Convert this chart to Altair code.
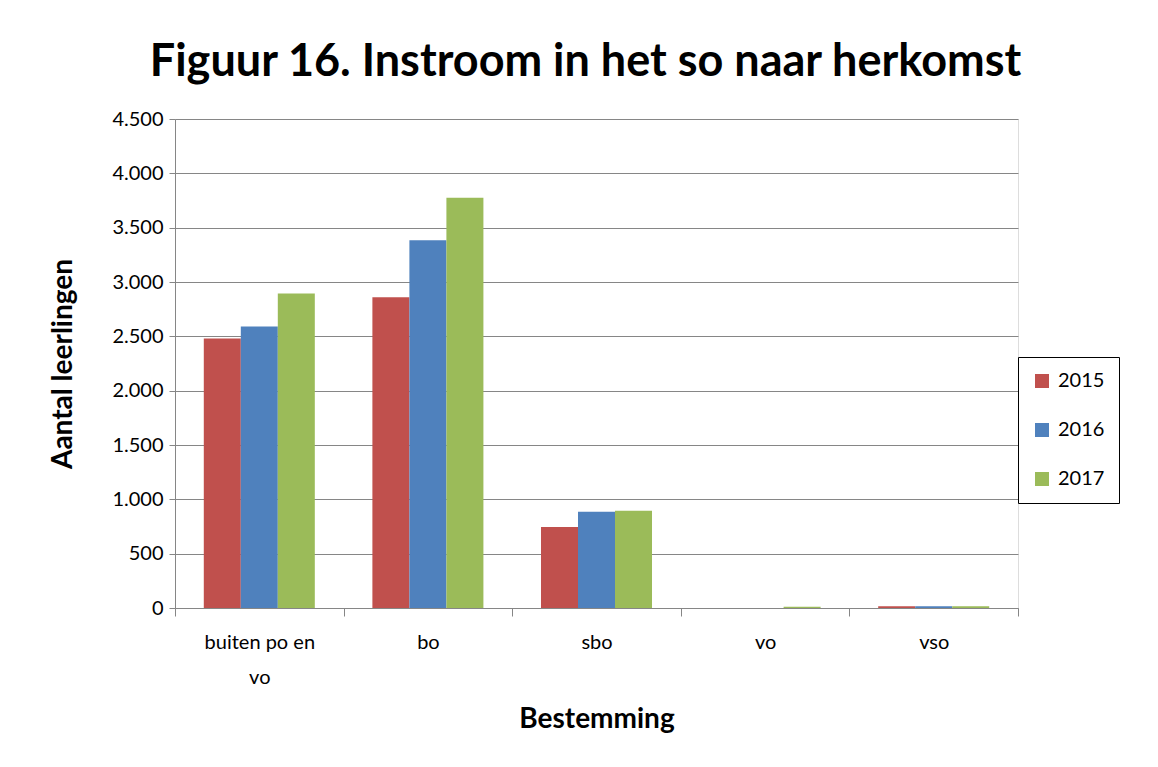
import altair as alt
import pandas as pd

categories = ["buiten po en vo", "bo", "sbo", "vo", "vso"]
years = ["2015", "2016", "2017"]
v2015 = [2480, 2860, 745, 0, 15]
v2016 = [2590, 3385, 885, 0, 15]
v2017 = [2895, 3775, 895, 12, 15]
colors = ["#C0504D", "#4F81BD", "#9BBB59"]
y_ticks = [0, 500, 1000, 1500, 2000, 2500, 3000, 3500, 4000, 4500]

rows = []
for ci, cat in enumerate(categories):
    for yr, vals in zip(years, [v2015, v2016, v2017]):
        rows.append({"Bestemming": cat, "Jaar": yr, "Aantal": vals[ci]})
df = pd.DataFrame(rows)

FONT = "Lato"

bars = alt.Chart(df).mark_bar().encode(
    x=alt.X("Bestemming:N", sort=categories,
            scale=alt.Scale(paddingInner=0, paddingOuter=0),
            axis=alt.Axis(title="Bestemming", tickBand="extent", grid=False,
                          labelAngle=0, labelFontSize=20, labelFont=FONT,
                          labelColor="#000000", labelPadding=26,
                          labelLineHeight=35, labelBaseline="middle",
                          labelExpr="datum.label == 'buiten po en vo' ? ['buiten po en', 'vo'] : datum.label",
                          tickSize=8, tickColor="#868686", domainColor="#868686",
                          titleFont=FONT, titleFontSize=28, titleFontWeight="bold",
                          titleColor="#000000", titlePadding=18)),
    xOffset=alt.XOffset("Jaar:N", scale=alt.Scale(paddingInner=0, paddingOuter=0.778)),
    y=alt.Y("Aantal:Q", scale=alt.Scale(domain=[0, 4500], nice=False),
            axis=alt.Axis(title="Aantal leerlingen", values=y_ticks,
                          labelExpr="replace(format(datum.value, ','), ',', '.')",
                          labelFontSize=20, labelFont=FONT, labelColor="#000000",
                          labelPadding=6, tickSize=6, tickColor="#868686",
                          domainColor="#868686", gridColor="#868686",
                          titleFont=FONT, titleFontSize=28, titleFontWeight="bold",
                          titleColor="#000000", titlePadding=34)),
    color=alt.Color("Jaar:N", scale=alt.Scale(domain=years, range=colors),
                    legend=alt.Legend(title=None, orient="none", legendX=843, legendY=238,
                                      symbolType="square", symbolSize=196,
                                      symbolStrokeWidth=0, labelFontSize=20,
                                      labelFont=FONT, labelColor="#000000",
                                      rowPadding=29, padding=14,
                                      strokeColor="#000000", fillColor="#FFFFFF",
                                      labelOffset=6)),
).properties(
    width=843, height=489,
    title=alt.Title("Figuur 16. Instroom in het so naar herkomst", font=FONT,
                    fontSize=45, fontWeight="bold", color="#000000",
                    anchor="middle", dx=-11, offset=24),
    autosize=alt.AutoSizeParams(type="none"),
    padding={"left": 167, "top": 111, "right": 132, "bottom": 140},
).configure_view(stroke=None).configure(background="#FFFFFF")

bars.save("out.html", embed_options={"renderer": "svg", "actions": False})
